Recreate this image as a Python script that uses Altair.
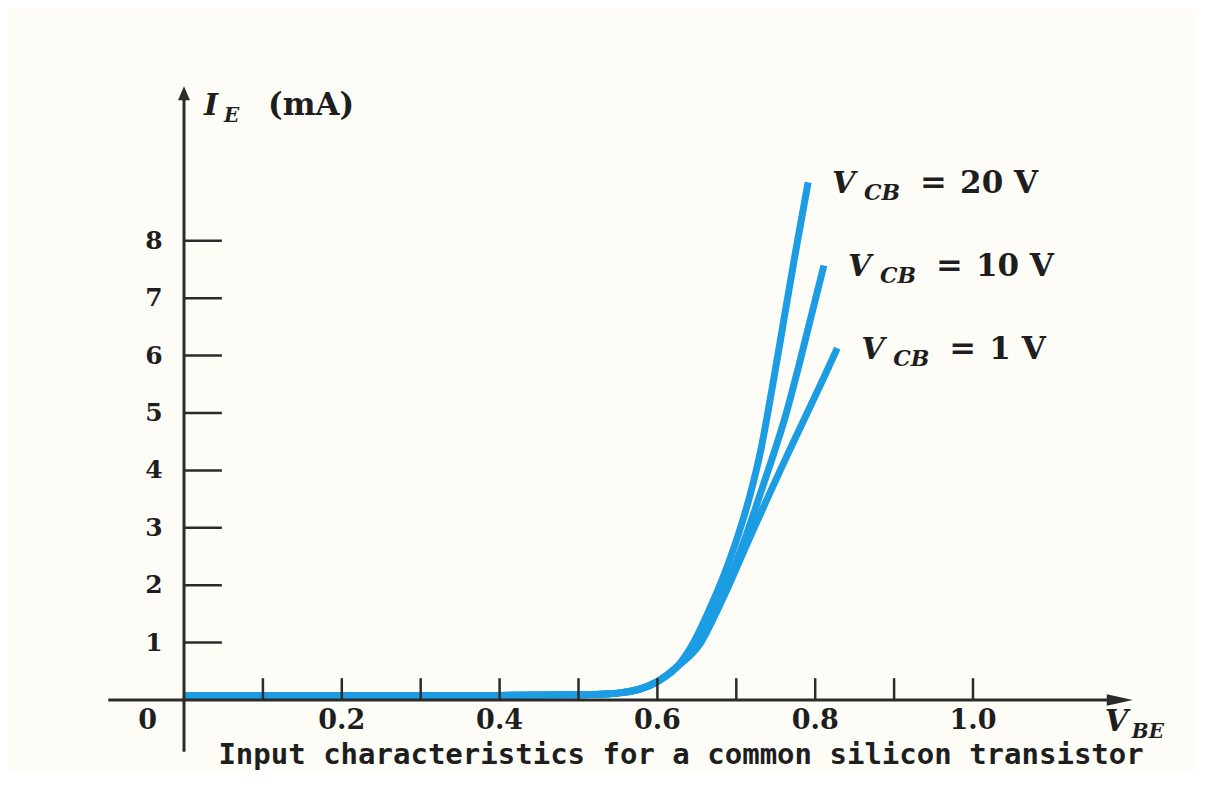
import altair as alt
import pandas as pd

# ---------------- data ----------------
# V_BE (V) and I_E (mA) for each curve
vbe_20 = [0.0, 0.1, 0.2, 0.3, 0.4, 0.5, 0.55, 0.6, 0.625, 0.645, 0.665, 0.685, 0.703, 0.718, 0.731, 0.745, 0.760, 0.775, 0.791]
ie_20 = [0.08, 0.08, 0.08, 0.08, 0.08, 0.09, 0.12, 0.32, 0.58, 0.98, 1.55, 2.2, 2.9, 3.6, 4.35, 5.4, 6.6, 7.8, 9.02]

vbe_10 = [0.0, 0.1, 0.2, 0.3, 0.4, 0.5, 0.55, 0.6, 0.625, 0.652, 0.674, 0.694, 0.712, 0.727, 0.744, 0.762, 0.779, 0.795, 0.811]
ie_10 = [0.08, 0.08, 0.08, 0.08, 0.08, 0.09, 0.12, 0.32, 0.58, 1.0, 1.55, 2.2, 2.85, 3.45, 4.15, 4.93, 5.81, 6.69, 7.57]

vbe_1 = [0.0, 0.1, 0.2, 0.3, 0.4, 0.5, 0.55, 0.6, 0.625, 0.655, 0.672, 0.688, 0.705, 0.722, 0.74, 0.758, 0.776, 0.794, 0.811, 0.828]
ie_1 = [0.08, 0.08, 0.08, 0.08, 0.08, 0.09, 0.12, 0.32, 0.58, 1.0, 1.45, 1.92, 2.45, 2.98, 3.53, 4.07, 4.6, 5.12, 5.62, 6.13]

series_names = ["20 V", "10 V", "1 V"]

x_tick_values = [0.1, 0.2, 0.3, 0.4, 0.5, 0.6, 0.7, 0.8, 0.9, 1.0]
x_label_values = [0.2, 0.4, 0.6, 0.8, 1.0]
x_label_texts = ["0.2", "0.4", "0.6", "0.8", "1.0"]
y_tick_values = [1, 2, 3, 4, 5, 6, 7, 8]
y_label_texts = ["1", "2", "3", "4", "5", "6", "7", "8"]

y_title_main = "I"
y_title_sub = "E"
y_title_unit = "(mA)"
x_title_main = "V"
x_title_sub = "BE"
x_title_unit = "(V)"
curve_label_main = "V"
curve_label_sub = "CB"
curve_label_eq = "="
caption = "Input characteristics for a common silicon transistor"

# ---------------- styling ----------------
BLUE = "#1c9ce3"
AXIS = "#2b2b2b"
TEXT = "#1e1e1e"
BG = "#fdfcf7"
SERIF = "DejaVu Serif"

W, H = 1190, 762
xs = alt.Scale(domain=[-0.22307, 1.28517], nice=False, zero=False)
ys = alt.Scale(domain=[-1.2195, 12.056], nice=False, zero=False)


def X(f):
    return alt.X(f, type="quantitative", scale=xs, axis=None)


def Y(f):
    return alt.Y(f, type="quantitative", scale=ys, axis=None)


# curves table
rows = []
for name, vv, ii in [("20 V", vbe_20, ie_20), ("10 V", vbe_10, ie_10), ("1 V", vbe_1, ie_1)]:
    for k, (v, i) in enumerate(zip(vv, ii)):
        rows.append({"series": name, "vbe": v, "ie": i, "k": k})
curves_df = pd.DataFrame(rows)

curves = alt.Chart(curves_df).mark_line(
    color=BLUE, strokeWidth=7, interpolate="monotone", strokeCap="butt"
).encode(x=X("vbe"), y=Y("ie"), detail="series:N", order="k:Q")

# axes lines
x_axis = alt.Chart(pd.DataFrame({"a": [-0.096], "b": [1.19], "y": [0.0]})).mark_rule(
    color=AXIS, strokeWidth=3
).encode(x=X("a"), x2="b", y=Y("y"))
y_axis = alt.Chart(pd.DataFrame({"x": [0.0], "a": [-0.9], "b": [10.5]})).mark_rule(
    color=AXIS, strokeWidth=3
).encode(x=X("x"), y=Y("a"), y2="b")

x_arrow = alt.Chart(pd.DataFrame({"x": [1.186], "y": [0.0]})).mark_point(
    shape="M-1,-0.45L1,0L-1,0.45Z", size=676, filled=True, color=AXIS, opacity=1
).encode(x=X("x"), y=Y("y"))
y_arrow = alt.Chart(pd.DataFrame({"x": [0.0], "y": [10.57]})).mark_point(
    shape="M-0.85,1L0,-1L0.85,1Z", size=196, filled=True, color=AXIS, opacity=1
).encode(x=X("x"), y=Y("y"))

# ticks
x_ticks = alt.Chart(pd.DataFrame({"x": x_tick_values})).mark_rule(
    color=AXIS, strokeWidth=2.5
).encode(x=X("x"), y=alt.Y(datum=0.0, scale=ys, axis=None), y2=alt.Y2(datum=0.38))
y_ticks = alt.Chart(pd.DataFrame({"y": y_tick_values})).mark_rule(
    color=AXIS, strokeWidth=2.5
).encode(y=Y("y"), x=alt.X(datum=0.0, scale=xs, axis=None), x2=alt.X2(datum=0.048))

# tick labels
x_labels = alt.Chart(pd.DataFrame({"x": x_label_values, "t": x_label_texts})).mark_text(
    font=SERIF, fontWeight="bold", fontSize=27, color=TEXT, baseline="middle", align="center"
).encode(x=X("x"), y=alt.Y(datum=-0.36, scale=ys, axis=None), text="t:N")
zero_label = alt.Chart(pd.DataFrame({"x": [-0.046], "t": ["0"]})).mark_text(
    font=SERIF, fontWeight="bold", fontSize=27, color=TEXT, baseline="middle", align="center"
).encode(x=X("x"), y=alt.Y(datum=-0.36, scale=ys, axis=None), text="t:N")
y_labels = alt.Chart(pd.DataFrame({"y": y_tick_values, "t": y_label_texts})).mark_text(
    font=SERIF, fontWeight="bold", fontSize=25, color=TEXT, baseline="middle", align="right"
).encode(y=Y("y"), x=alt.X(datum=-0.027, scale=xs, axis=None), text="t:N")

# axis titles
yt_df = pd.DataFrame({"x": [0.0], "y": [10.19]})
y_t1 = alt.Chart(yt_df).mark_text(
    font=SERIF, fontWeight="bold", fontStyle="italic", fontSize=30, color=TEXT,
    align="left", baseline="alphabetic", dx=20
).encode(x=X("x"), y=Y("y"), text=alt.value(y_title_main))
y_t2 = alt.Chart(yt_df).mark_text(
    font=SERIF, fontWeight="bold", fontStyle="italic", fontSize=20, color=TEXT,
    align="left", baseline="alphabetic", dx=40, dy=7
).encode(x=X("x"), y=Y("y"), text=alt.value(y_title_sub))
y_t3 = alt.Chart(yt_df).mark_text(
    font=SERIF, fontWeight="bold", fontSize=31, color=TEXT,
    align="left", baseline="alphabetic", dx=84
).encode(x=X("x"), y=Y("y"), text=alt.value(y_title_unit))

xt_df = pd.DataFrame({"x": [1.167], "y": [-0.54]})
x_t1 = alt.Chart(xt_df).mark_text(
    font=SERIF, fontWeight="bold", fontStyle="italic", fontSize=30, color=TEXT,
    align="left", baseline="alphabetic"
).encode(x=X("x"), y=Y("y"), text=alt.value(x_title_main))
x_t2 = alt.Chart(xt_df).mark_text(
    font=SERIF, fontWeight="bold", fontStyle="italic", fontSize=20, color=TEXT,
    align="left", baseline="alphabetic", dx=27, dy=7
).encode(x=X("x"), y=Y("y"), text=alt.value(x_title_sub))
x_t3 = alt.Chart(xt_df).mark_text(
    font=SERIF, fontWeight="bold", fontSize=30, color=TEXT,
    align="left", baseline="alphabetic", dx=93
).encode(x=X("x"), y=Y("y"), text=alt.value(x_title_unit))

# curve labels, anchored at curve ends
lab_df = pd.DataFrame({
    "x": [vbe_20[-1], vbe_10[-1], vbe_1[-1]],
    "y": [ie_20[-1], ie_10[-1], ie_1[-1]],
    "val": series_names,
})
lab1 = alt.Chart(lab_df).mark_text(
    font=SERIF, fontWeight="bold", fontStyle="italic", fontSize=30, color=TEXT,
    align="left", baseline="alphabetic", dx=24, dy=11
).encode(x=X("x"), y=Y("y"), text=alt.value(curve_label_main))
lab2 = alt.Chart(lab_df).mark_text(
    font=SERIF, fontWeight="bold", fontStyle="italic", fontSize=22, color=TEXT,
    align="left", baseline="alphabetic", dx=56, dy=18
).encode(x=X("x"), y=Y("y"), text=alt.value(curve_label_sub))
lab3 = alt.Chart(lab_df).mark_text(
    font=SERIF, fontWeight="bold", fontSize=32, color=TEXT,
    align="left", baseline="alphabetic", dx=112, dy=11
).encode(x=X("x"), y=Y("y"), text=alt.value(curve_label_eq))
lab4 = alt.Chart(lab_df).mark_text(
    font=SERIF, fontWeight="bold", fontSize=31, color=TEXT,
    align="left", baseline="alphabetic", dx=152, dy=11
).encode(x=X("x"), y=Y("y"), text="val:N")

cap = alt.Chart(pd.DataFrame({"x": [0.63], "y": [-1.115]})).mark_text(
    font="DejaVu Sans Mono", fontWeight="bold", fontSize=29, color=TEXT,
    align="center", baseline="alphabetic"
).encode(x=X("x"), y=Y("y"), text=alt.value(caption))

chart = alt.layer(
    curves, x_axis, y_axis, x_ticks, y_ticks, x_arrow, y_arrow,
    x_labels, zero_label, y_labels,
    y_t1, y_t2, y_t3, x_t1, x_t2, x_t3,
    lab1, lab2, lab3, lab4, cap,
).properties(
    width=W, height=H, padding=0, autosize=alt.AutoSizeParams(type="none"),
    background=BG,
).configure_view(stroke=None)

chart.save("out.html", embed_options={"renderer": "svg", "actions": False})
